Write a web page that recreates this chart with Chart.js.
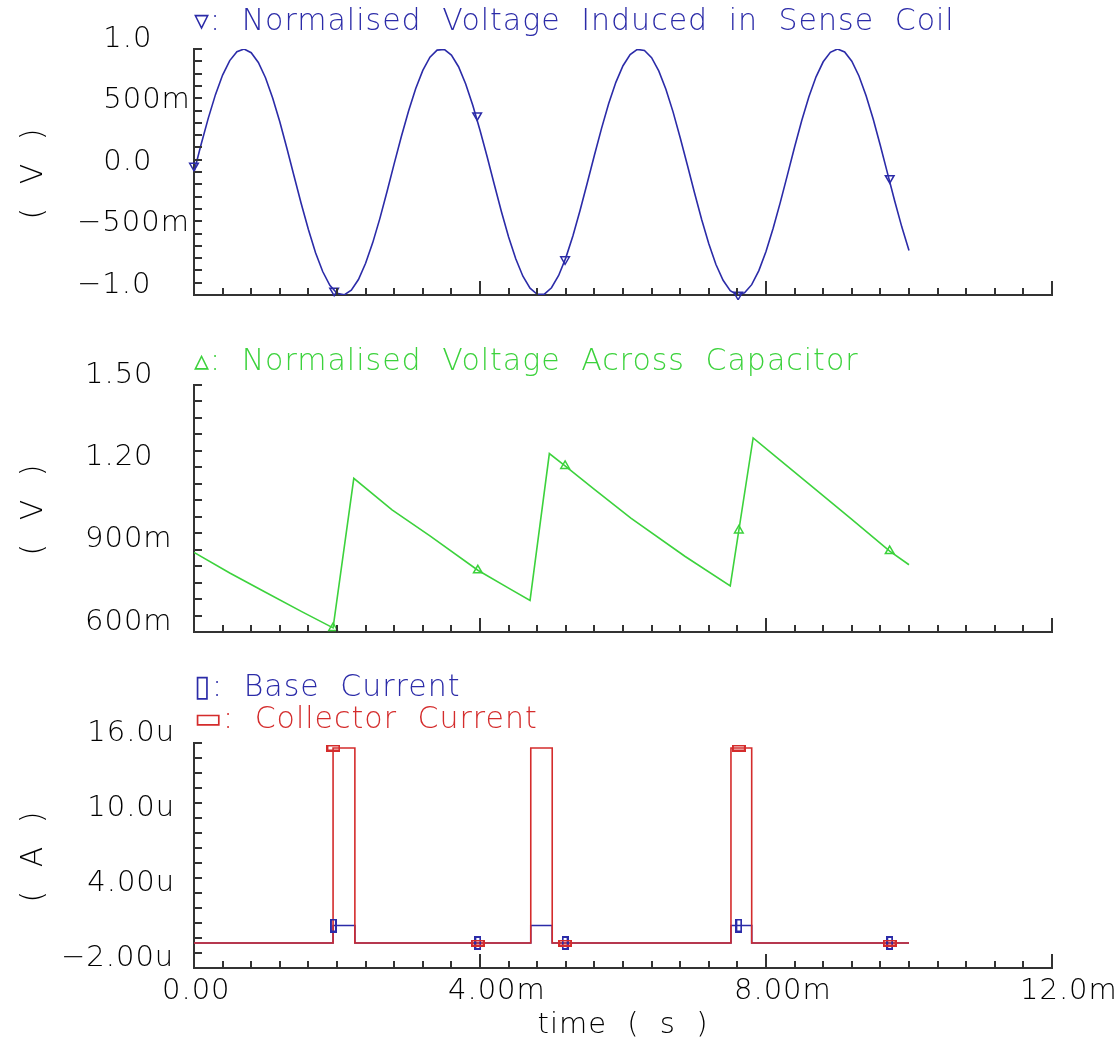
<!DOCTYPE html>
<html>
<head>
<meta charset="utf-8">
<title>Sense coil transient</title>
<script src="https://cdn.jsdelivr.net/npm/chart.js@4.4.1/dist/chart.umd.min.js"></script>
<style>
  body { margin: 0; background: #fff; width: 1120px; height: 1045px; position: relative; overflow: hidden; }
  canvas { position: absolute; left: 0; }
  .ytitle { position: absolute; left: 31px; font: 200 30px 'DejaVu Sans', sans-serif; color: #000;
            white-space: pre; letter-spacing: 4px; word-spacing: 6px; transform: translate(-50%, -50%) rotate(-90deg); }
</style>
</head>
<body>
<canvas id="sense" width="1120" height="300" style="top:0"></canvas>
<canvas id="cap" width="1120" height="320" style="top:330px"></canvas>
<canvas id="current" width="1120" height="395" style="top:650px"></canvas>
<div class="ytitle" style="top:172px">( V )</div>
<div class="ytitle" style="top:508px">( V )</div>
<div class="ytitle" style="top:855px">( A )</div>
<script>
//-----------------------------------------------------------------------------
// Data (time in ms, voltages in V, currents in uA)
//-----------------------------------------------------------------------------

var timeLabels = ['0.00', '4.00m', '8.00m', '12.0m'];

// normalised voltage induced in sense coil
var senseTime = [
  0.0, 0.1, 0.2, 0.3, 0.4, 0.5, 0.6, 0.7, 0.8, 0.9,
  1.0, 1.1, 1.2, 1.3, 1.4, 1.5, 1.6, 1.7, 1.8, 1.9,
  2.0, 2.1, 2.2, 2.3, 2.4, 2.5, 2.6, 2.7, 2.8, 2.9,
  3.0, 3.1, 3.2, 3.3, 3.4, 3.5, 3.6, 3.7, 3.8, 3.9,
  4.0, 4.1, 4.2, 4.3, 4.4, 4.5, 4.6, 4.7, 4.8, 4.9,
  5.0, 5.1, 5.2, 5.3, 5.4, 5.5, 5.6, 5.7, 5.8, 5.9,
  6.0, 6.1, 6.2, 6.3, 6.4, 6.5, 6.6, 6.7, 6.8, 6.9,
  7.0, 7.1, 7.2, 7.3, 7.4, 7.5, 7.6, 7.7, 7.8, 7.9,
  8.0, 8.1, 8.2, 8.3, 8.4, 8.5, 8.6, 8.7, 8.8, 8.9,
  9.0, 9.1, 9.2, 9.3, 9.4, 9.5, 9.6, 9.7, 9.8, 9.9,
  10.0
];
var senseVolt = [
  0.000, 0.225, 0.438, 0.629, 0.788, 0.906, 0.978, 1.000, 0.970, 0.891,
  0.766, 0.602, 0.408, 0.191, -0.034, -0.258, -0.467, -0.656, -0.809, -0.922,
  -0.986, -0.999, -0.961, -0.874, -0.742, -0.574, -0.377, -0.158, 0.068, 0.289,
  0.494, 0.677, 0.826, 0.933, 0.991, 0.997, 0.950, 0.856, 0.716, 0.540,
  0.340, 0.124, -0.102, -0.323, -0.528, -0.705, -0.847, -0.945, -0.994, -0.993,
  -0.941, -0.841, -0.698, -0.518, -0.311, -0.090, 0.136, 0.355, 0.556, 0.729,
  0.864, 0.955, 0.997, 0.988, 0.929, 0.822, 0.673, 0.489, 0.279, 0.057,
  -0.169, -0.386, -0.584, -0.752, -0.880, -0.965, -0.999, -0.982, -0.916, -0.802,
  -0.646, -0.458, -0.247, -0.023, 0.203, 0.418, 0.611, 0.774, 0.896, 0.973,
  1.000, 0.976, 0.901, 0.781, 0.620, 0.429, 0.214, -0.011, -0.236, -0.448,
  -0.638
];
var senseMarkTime = [0.0, 1.96, 3.96, 5.19, 7.61, 9.73];
var senseMarkVolt = [0.05, -0.965, 0.46, -0.71, -0.998, -0.05];
var senseTicks = ['\u22121.0', '\u2212500m', '0.0', '500m', '1.0'];

// normalised voltage across capacitor
var capTime = [0, 0.5, 1.0, 1.5, 1.945, 2.235, 2.77, 3.3, 3.97, 4.4, 4.70,
               4.97, 5.19, 5.6, 6.11, 6.87, 7.50, 7.82, 8.2, 8.62, 9.2, 9.73, 10.0];
var capVolt = [0.89, 0.815, 0.745, 0.675, 0.615, 1.16, 1.045, 0.95, 0.825, 0.76, 0.715,
               1.25, 1.205, 1.12, 1.015, 0.875, 0.768, 1.307, 1.225, 1.135, 1.01, 0.895, 0.845];
var capMarkTime = [1.945, 3.97, 5.19, 7.62, 9.73];
var capMarkVolt = [0.615, 0.825, 1.205, 0.97, 0.895];
var capTicks = ['600m', '900m', '1.20', '1.50'];

// transistor currents (held until the next point)
var pulseTime = [0, 1.945, 2.25, 4.71, 5.01, 7.51, 7.80, 10.0];
var baseCurrent = [0, 1.4, 0, 1.4, 0, 1.4, 0, 0];
var collectorCurrent = [0, 15.6, 0, 15.6, 0, 15.6, 0, 0];
var baseMarkTime = [1.95, 3.97, 5.19, 7.62, 9.73];
var baseMarkValue = [1.4, 0, 0, 1.4, 0];
var collMarkTime = [1.95, 3.97, 5.19, 7.62, 9.73];
var collMarkValue = [15.6, 0, 0, 15.6, 0];
var currentTicks = ['\u22122.00u', '4.00u', '10.0u', '16.0u'];

//-----------------------------------------------------------------------------
// Look
//-----------------------------------------------------------------------------

var blue = '#2b2ba8',
    green = '#3cd23c',
    red = '#d42c2c',
    ink = '#000',
    axisColor = '#333',
    fontFamily = "'DejaVu Sans', sans-serif";

Chart.defaults.font.family = fontFamily;
Chart.defaults.font.size = 29;
Chart.defaults.font.weight = '200';
Chart.defaults.color = ink;

function points(xs, ys) {
  return xs.map(function(x, i) { return {x: x, y: ys[i]}; });
}

// positive labels get a blank as wide as the minus sign so digits line up
function hang(label) {
  return label.charAt(0) === '\u2212' ? label : '\u2007\u2009' + label;
}

function boxMarker(w, h, color) {
  var c = document.createElement('canvas');
  c.width = w + 2;
  c.height = h + 2;
  var ctx = c.getContext('2d');
  ctx.strokeStyle = color;
  ctx.lineWidth = 2;
  ctx.strokeRect(1, 1, w, h);
  return c;
}

// the plotter font is wide and airy
var spacing = {
  id: 'spacing',
  beforeDraw: function(chart) {
    chart.ctx.letterSpacing = '1px';
    chart.ctx.wordSpacing = '10px';
  }
};

// short inward tick marks, cadence style
var innerTicks = {
  id: 'innerTicks',
  afterDraw: function(chart) {
    var ctx = chart.ctx,
        area = chart.chartArea,
        xs = chart.scales.x,
        ys = chart.scales.y;
    ctx.save();
    ctx.strokeStyle = axisColor;
    ctx.lineWidth = 2;
    ctx.beginPath();
    xs.ticks.forEach(function(t, i) {
      var px = Math.round(xs.getPixelForTick(i));
      ctx.moveTo(px, area.bottom);
      ctx.lineTo(px, area.bottom - (i % 10 === 0 ? 14 : 7));
    });
    ys.ticks.forEach(function(t, i) {
      var py = Math.round(ys.getPixelForTick(i));
      ctx.moveTo(area.left, py);
      ctx.lineTo(area.left + 8, py);
    });
    ctx.stroke();
    ctx.restore();
  }
};

// p: padLeft, padBottom, xHeight, yMin, yMax, yStep, yLabels, hang, title, subtitle, showTime
function panelOptions(p) {
  return {
    responsive: false,
    animation: false,
    events: [],
    layout: { autoPadding: false, padding: { left: p.padLeft, right: 68, top: 0, bottom: p.padBottom } },
    plugins: {
      legend: { display: false },
      tooltip: { enabled: false },
      title: p.title,
      subtitle: p.subtitle || { display: false }
    },
    scales: {
      x: {
        type: 'linear', min: 0, max: 12,
        grid: { drawOnChartArea: false, drawTicks: false },
        border: { color: axisColor, width: 2 },
        ticks: {
          display: !!p.showTime, stepSize: 0.4, autoSkip: false, maxRotation: 0, minRotation: 0,
          align: 'start', labelOffset: -32, padding: 6,
          callback: function(v, i) { return i % 10 === 0 ? timeLabels[i / 10] : ''; }
        },
        title: p.showTime ? { display: true, text: 'time ( s )', padding: { top: 0, bottom: 2 } } : { display: false },
        afterFit: function(s) {
          s.height = p.xHeight || 0;
          s.paddingLeft = 0;
          s.paddingRight = 0;
        }
      },
      y: {
        min: p.yMin, max: p.yMax,
        grid: { drawOnChartArea: false, drawTicks: false },
        border: { color: axisColor, width: 2 },
        ticks: {
          stepSize: p.yStep, autoSkip: false, crossAlign: 'far', labelOffset: -10,
          callback: function(v, i) {
            if (i % 5 !== 0) return '';
            var l = p.yLabels[i / 5];
            return p.hang ? hang(l) : l;
          }
        },
        afterFit: function(s) {
          s.width = 194 - p.padLeft;
          s.paddingTop = 0;
          s.paddingBottom = 0;
        }
      }
    }
  };
}

function titleFont(lineHeight) {
  return { size: 30, weight: '200', lineHeight: lineHeight || 1.2 };
}

//-----------------------------------------------------------------------------
// Panels
//-----------------------------------------------------------------------------

new Chart(document.getElementById('sense'), {
  type: 'line',
  data: {
    datasets: [{
      data: points(senseMarkTime, senseMarkVolt),
      showLine: false, pointStyle: 'triangle', pointRotation: 180, pointRadius: 5,
      pointBorderColor: blue, pointBorderWidth: 1.5, pointBackgroundColor: 'rgba(0,0,0,0)', clip: 8
    }, {
      data: points(senseTime, senseVolt),
      borderColor: blue, borderWidth: 1.6, pointRadius: 0, tension: 0
    }]
  },
  options: panelOptions({
    padLeft: 77, padBottom: 5, yMin: -1, yMax: 1, yStep: 0.1, yLabels: senseTicks, hang: true,
    title: { display: true, text: '\u25BF: Normalised Voltage Induced in Sense Coil', align: 'start',
             fullSize: false, color: blue, font: titleFont(), padding: { top: 4, bottom: 9 } }
  }),
  plugins: [spacing, innerTicks]
});

new Chart(document.getElementById('cap'), {
  type: 'line',
  data: {
    datasets: [{
      data: points(capMarkTime, capMarkVolt),
      showLine: false, pointStyle: 'triangle', pointRadius: 5,
      pointBorderColor: green, pointBorderWidth: 1.5, pointBackgroundColor: 'rgba(0,0,0,0)', clip: 8
    }, {
      data: points(capTime, capVolt),
      borderColor: green, borderWidth: 1.6, pointRadius: 0, tension: 0
    }]
  },
  options: panelOptions({
    padLeft: 85, padBottom: 18, yMin: 0.6, yMax: 1.5, yStep: 0.06, yLabels: capTicks,
    title: { display: true, text: '\u25B5: Normalised Voltage Across Capacitor', align: 'start',
             fullSize: false, color: green, font: titleFont(), padding: { top: 14, bottom: 5 } }
  }),
  plugins: [spacing, innerTicks]
});

new Chart(document.getElementById('current'), {
  type: 'line',
  data: {
    datasets: [{
      data: points(collMarkTime, collMarkValue),
      showLine: false, pointStyle: boxMarker(12, 5, red), pointRadius: 4, clip: 8
    }, {
      data: points(baseMarkTime, baseMarkValue),
      showLine: false, pointStyle: boxMarker(5, 12, blue), pointRadius: 4, clip: 8
    }, {
      data: points(pulseTime, collectorCurrent),
      borderColor: red, borderWidth: 1.6, pointRadius: 0, stepped: 'before'
    }, {
      data: points(pulseTime, baseCurrent),
      borderColor: blue, borderWidth: 1.6, pointRadius: 0, stepped: 'before'
    }]
  },
  options: panelOptions({
    padLeft: 61, padBottom: 0, xHeight: 77, showTime: true,
    yMin: -2, yMax: 16, yStep: 1.2, yLabels: currentTicks, hang: true,
    title: { display: true, text: '\u25AF: Base Current', align: 'start', fullSize: false, color: blue,
             font: titleFont(1), padding: { top: 23, bottom: 0 } },
    subtitle: { display: true, text: '\u25AD: Collector Current', align: 'start', fullSize: false, color: red,
                font: titleFont(1), padding: { top: 2, bottom: 8 } }
  }),
  plugins: [spacing, innerTicks]
});
</script>
</body>
</html>
